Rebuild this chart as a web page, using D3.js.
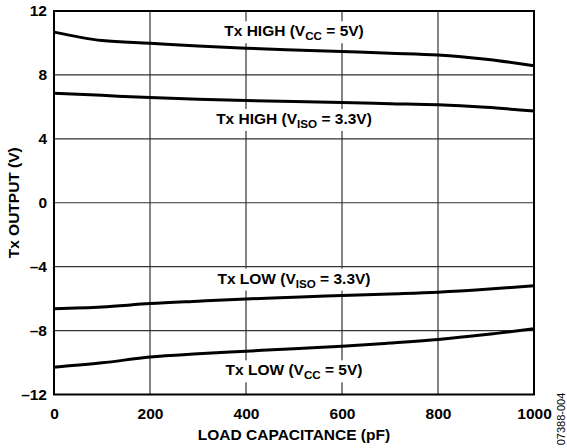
<!DOCTYPE html>
<html>
<head>
<meta charset="utf-8">
<script src="https://cdn.jsdelivr.net/npm/d3@7"></script>
<style>
  html, body { margin: 0; padding: 0; background: #fff; }
  svg { display: block; font-family: Arial, "Liberation Sans", sans-serif; }
</style>
</head>
<body>
<div id="chart"></div>
<script>
// Load capacitance (pF)
const loadCap = [0, 100, 200, 300, 400, 500, 600, 700, 800, 900, 1000];

// Tx output (V) per curve
const highVcc  = [10.68, 10.15, 9.98, 9.81, 9.67, 9.56, 9.46, 9.36, 9.25, 8.98, 8.57];
const highViso = [6.86, 6.72, 6.58, 6.48, 6.40, 6.33, 6.27, 6.20, 6.13, 5.97, 5.74];
const lowViso  = [-6.63, -6.52, -6.31, -6.16, -6.02, -5.91, -5.81, -5.71, -5.60, -5.42, -5.19];
const lowVcc   = [-10.29, -10.02, -9.65, -9.45, -9.29, -9.13, -8.98, -8.78, -8.56, -8.25, -7.88];

const xTicks = [0, 200, 400, 600, 800, 1000];
const yTicks = [-12, -8, -4, 0, 4, 8, 12];

// curve labels: main text, subscript, tail, anchor value
const labels = [
  { main: 'Tx HIGH (V', sub: 'CC',  tail: ' = 5V)',   x: 500, y: 10.42 },
  { main: 'Tx HIGH (V', sub: 'ISO', tail: ' = 3.3V)', x: 500, y: 4.93 },
  { main: 'Tx LOW (V',  sub: 'ISO', tail: ' = 3.3V)', x: 500, y: -5.06 },
  { main: 'Tx LOW (V',  sub: 'CC',  tail: ' = 5V)',   x: 500, y: -10.8 },
];

const W = 567, H = 448;
const margin = { top: 11, right: 33, bottom: 53.5, left: 54 };

const svg = d3.select('#chart').append('svg')
  .attr('width', W)
  .attr('height', H);

const x = d3.scaleLinear().domain([0, 1000]).range([margin.left, W - margin.right]);
const y = d3.scaleLinear().domain([-12, 12]).range([H - margin.bottom, margin.top]);

// Grid
const grid = svg.append('g').attr('stroke', '#333').attr('stroke-width', 1.2);
grid.selectAll('line.v').data(xTicks.slice(1, -1)).join('line')
  .attr('x1', d => x(d)).attr('x2', d => x(d))
  .attr('y1', y(-12)).attr('y2', y(12));
grid.selectAll('line.h').data(yTicks.slice(1, -1)).join('line')
  .attr('x1', x(0)).attr('x2', x(1000))
  .attr('y1', d => y(d)).attr('y2', d => y(d));

// Curves
const line = d3.line()
  .x((d, i) => x(loadCap[i]))
  .y(d => y(d))
  .curve(d3.curveMonotoneX);

svg.append('g').selectAll('path').data([highVcc, highViso, lowViso, lowVcc]).join('path')
  .attr('d', line)
  .attr('fill', 'none')
  .attr('stroke', '#000')
  .attr('stroke-width', 3);

// Curve labels with white backing
const fs = 15.5;
labels.forEach(l => {
  const g = svg.append('g');
  const t = g.append('text')
    .attr('x', x(l.x)).attr('y', y(l.y))
    .attr('text-anchor', 'middle')
    .attr('font-size', fs).attr('font-weight', 'bold');
  t.append('tspan').text(l.main);
  t.append('tspan').attr('font-size', fs * 0.75).attr('dy', 4).text(l.sub);
  t.append('tspan').attr('dy', -4).text(l.tail);
  const b = t.node().getBBox();
  g.insert('rect', 'text')
    .attr('x', b.x - 8).attr('y', b.y - 1)
    .attr('width', b.width + 16).attr('height', b.height + 2)
    .attr('fill', '#fff');
});

// Frame
svg.append('rect')
  .attr('x', x(0)).attr('y', y(12))
  .attr('width', x(1000) - x(0)).attr('height', y(-12) - y(12))
  .attr('fill', 'none').attr('stroke', '#000').attr('stroke-width', 2);

// Axes
const xAxis = svg.append('g')
  .attr('transform', `translate(0,${y(-12)})`)
  .call(d3.axisBottom(x).tickValues(xTicks).tickSize(0).tickPadding(13)
    .tickFormat(d3.format('d')));
const yAxis = svg.append('g')
  .attr('transform', `translate(${x(0)},0)`)
  .call(d3.axisLeft(y).tickValues(yTicks).tickSize(0).tickPadding(7)
    .tickFormat(d => d < 0 ? '\u2013' + Math.abs(d) : d));
[xAxis, yAxis].forEach(a => {
  a.select('.domain').remove();
  a.selectAll('text')
    .attr('font-family', 'Arial, "Liberation Sans", sans-serif')
    .attr('font-size', fs).attr('font-weight', 'bold').attr('fill', '#000');
});

// Axis titles
svg.append('text')
  .attr('x', (x(0) + x(1000)) / 2).attr('y', 440)
  .attr('text-anchor', 'middle')
  .attr('font-size', fs).attr('font-weight', 'bold')
  .text('LOAD CAPACITANCE (pF)');

svg.append('text')
  .attr('transform', `translate(19,${(y(12) + y(-12)) / 2}) rotate(-90)`)
  .attr('text-anchor', 'middle')
  .attr('font-size', fs).attr('font-weight', 'bold')
  .text('Tx OUTPUT (V)');

svg.append('text')
  .attr('transform', 'translate(565,419) rotate(-90)')
  .attr('text-anchor', 'middle')
  .attr('font-size', 11)
  .text('07388-004');
</script>
</body>
</html>
